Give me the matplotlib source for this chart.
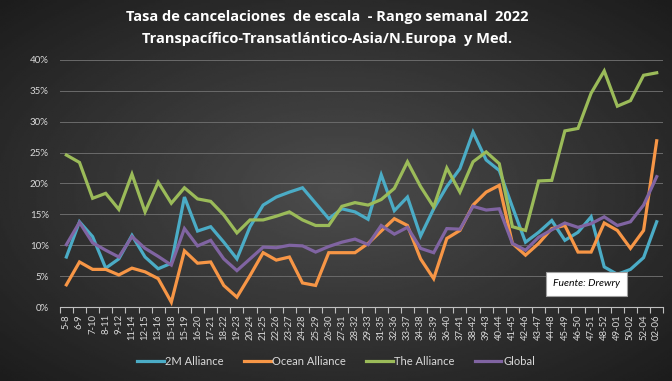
import numpy as np
import matplotlib
matplotlib.use("Agg")
import matplotlib.pyplot as plt
from matplotlib.ticker import FixedLocator, FuncFormatter

# datos (tasa %)
semanas = ["5-8", "6-9", "7-10", "8-11", "9-12", "11-14", "12-15", "13-16", "15-18", "15-19",
           "16-20", "17-21", "18-22", "19-23", "20-24", "21-25", "22-26", "23-27", "24-28", "25-29",
           "26-30", "27-31", "28-32", "29-33", "31-35", "32-36", "33-37", "34-38", "35-39", "36-40",
           "37-41", "38-42", "39-43", "40-44", "41-45", "42-46", "43-47", "44-48", "45-49", "46-50",
           "47-51", "48-52", "49-01", "50-02", "52-04", "02-06"]

m2 = [8.1, 13.8, 11.4, 6.3, 7.8, 11.6, 8.1, 6.2, 7.1, 17.8, 12.3, 13.0, 10.5, 7.8, 13.0, 16.5,
      17.8, 18.6, 19.3, 16.8, 14.3, 15.9, 15.4, 14.2, 21.4, 15.6, 17.8, 11.5, 15.9, 19.5,
      22.4, 28.3, 23.8, 22.1, 16.2, 10.5, 12.1, 14.0, 10.8, 12.1, 14.6, 6.5, 5.3, 6.1, 8.0, 13.8]
ocean = [3.6, 7.3, 6.1, 6.1, 5.2, 6.3, 5.7, 4.6, 0.8, 9.1, 7.1, 7.3, 3.5, 1.6, 5.1, 8.8,
         7.6, 8.1, 3.9, 3.5, 8.8, 8.8, 8.8, 10.3, 12.3, 14.3, 13.2, 7.8, 4.6, 11.1,
         12.4, 16.5, 18.6, 19.7, 10.3, 8.4, 10.3, 12.7, 13.2, 8.9, 8.9, 13.6, 12.4, 9.5, 12.4, 26.9]
the_alliance = [24.6, 23.4, 17.6, 18.4, 15.8, 21.5, 15.4, 20.2, 16.8, 19.3, 17.5, 17.1, 14.9, 12.0, 14.1, 14.1,
                14.7, 15.4, 14.1, 13.2, 13.2, 16.3, 16.9, 16.5, 17.4, 19.2, 23.5, 19.5, 16.2, 22.5,
                18.6, 23.5, 25.1, 23.2, 13.0, 12.4, 20.4, 20.5, 28.5, 28.9, 34.6, 38.2, 32.5, 33.4, 37.5, 37.9]
global_ = [10.1, 13.7, 10.4, 9.2, 8.1, 11.4, 9.5, 8.2, 6.8, 12.7, 9.9, 10.8, 7.8, 5.9, 7.8, 9.7,
           9.6, 10.0, 9.9, 8.9, 9.8, 10.5, 11.0, 10.1, 13.2, 11.8, 12.9, 9.5, 8.8, 12.7,
           12.6, 16.3, 15.7, 15.9, 10.3, 9.2, 11.3, 12.5, 13.6, 12.9, 13.5, 14.6, 13.2, 13.8, 16.5, 21.1]

series = [("2M Alliance", m2, "#4bacc6"),
          ("Ocean Alliance", ocean, "#f79646"),
          ("The Alliance", the_alliance, "#9bbb59"),
          ("Global", global_, "#8064a2")]

txt = "#d9d9d9"
plt.rcParams['font.family'] = ['Lato', 'DejaVu Sans']

fig = plt.figure(figsize=(6.72, 3.81), dpi=100)

# fondo con degradado radial
bg = fig.add_axes([0, 0, 1, 1], zorder=-10)
yy, xx = np.mgrid[-1:1:200j, -1:1:350j]
r = np.sqrt(xx**2 + yy**2) / np.sqrt(2)
bg.imshow(0.30 - 0.19 * r, cmap="gray", vmin=0, vmax=1, aspect="auto", extent=[0, 1, 0, 1])
bg.axis("off")

ax = fig.add_axes([0.089, 0.194, 0.898, 0.649])
ax.patch.set_alpha(0)

x = np.arange(len(semanas))
for nombre, vals, col in series:
    ax.plot(x, vals, color=col, linewidth=2.3, label=nombre, solid_joinstyle="miter")

ax.set_xlim(-0.5, len(semanas) - 0.5)
ax.set_ylim(0, 40)
ax.set_yticks(np.arange(0, 41, 5))
ax.yaxis.set_major_formatter(FuncFormatter(lambda v, p: f"{v:.0f}%"))
ax.grid(axis="y", color="#6a6a6a", linewidth=0.7)
ax.set_axisbelow(True)

# marcas entre categorias, etiquetas centradas
ax.xaxis.set_major_locator(FixedLocator(np.arange(-0.5, len(semanas), 1)))
ax.xaxis.set_major_formatter(FuncFormatter(lambda v, p: ""))
ax.xaxis.set_minor_locator(FixedLocator(x))
ax.set_xticklabels(semanas, minor=True, rotation=90, fontsize=6.8, color=txt)
ax.tick_params(axis="x", which="major", length=4, color="#bfbfbf", direction="out")
ax.tick_params(axis="x", which="minor", length=0, pad=5)
ax.tick_params(axis="y", length=0, labelsize=7, labelcolor=txt, pad=8)

for s in ["top", "right", "left"]:
    ax.spines[s].set_visible(False)
ax.spines["bottom"].set_color("#bfbfbf")

titulo = ["Tasa de cancelaciones  de escala  - Rango semanal  2022",
          "Transpacífico-Transatlántico-Asia/N.Europa  y Med."]
fig.text(0.487, 0.955, titulo[0], ha="center", va="center", color="white",
         fontsize=10.5, fontweight="bold", family="Open Sans")
fig.text(0.487, 0.898, titulo[1], ha="center", va="center", color="white",
         fontsize=10.5, fontweight="bold", family="Open Sans")

fig.text(0.873, 0.255, "Fuente: Drewry", ha="center", va="center", fontsize=7.5,
         style="italic", color="black",
         bbox=dict(boxstyle="square,pad=0.7", facecolor="white", edgecolor="#a0a0a0", linewidth=0.8))

fig.legend(loc="center", bbox_to_anchor=(0.5, 0.052), ncol=4, frameon=False,
           fontsize=8, labelcolor=txt, handlelength=2.4, handletextpad=0.15, columnspacing=1.8)

fig.savefig("out.png", dpi=100)
